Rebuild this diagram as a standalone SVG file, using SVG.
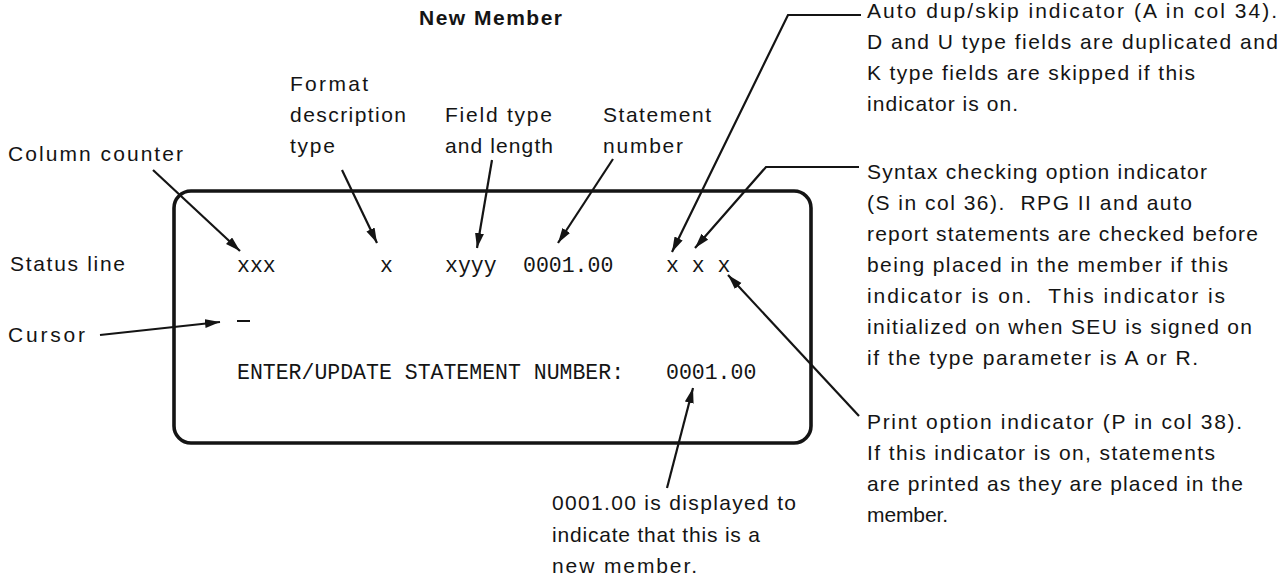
<svg xmlns="http://www.w3.org/2000/svg" width="1282" height="582" viewBox="0 0 1282 582">
  <style>
    .lbl { font-family: "Liberation Sans", Arial, sans-serif; font-size: 21px; fill: #141414; }
    .ttl { font-family: "Liberation Sans", Arial, sans-serif; font-size: 21px; font-weight: bold; fill: #141414; }
    .mono { font-family: "Liberation Mono", "Courier New", monospace; font-size: 21.5px; fill: #141414; }
    .conn { fill: none; stroke: #141414; stroke-width: 2.2; stroke-linejoin: miter; }
    .screen { fill: none; stroke: #141414; stroke-width: 3.6; }
  </style>
  <defs>
    <marker id="arrow" markerUnits="userSpaceOnUse" markerWidth="16" markerHeight="10" refX="15" refY="4.5" orient="auto">
      <path d="M0,0 L15,4.5 L0,9 Z" fill="#141414"/>
    </marker>
  </defs>
  <rect width="1282" height="582" fill="#ffffff"/>

  <g id="title">
    <text class="ttl" x="419" y="25" textLength="143" lengthAdjust="spacing">New Member</text>
  </g>

  <g id="screen">
    <rect class="screen" x="174" y="191" width="637" height="252" rx="17" ry="17"/>
    <g id="status-row">
      <text class="mono" x="237" y="272">xxx</text>
      <text class="mono" x="380" y="272">x</text>
      <text class="mono" x="445" y="272">xyyy</text>
      <text class="mono" x="523" y="272">0001.00</text>
      <text class="mono" x="666" y="272">x x x</text>
    </g>
    <line id="cursor-mark" x1="237" y1="321" x2="250" y2="321" stroke="#141414" stroke-width="2"/>
    <g id="prompt-row">
      <text class="mono" x="237" y="379">ENTER/UPDATE STATEMENT NUMBER:</text>
      <text class="mono" x="666" y="379">0001.00</text>
    </g>
  </g>

  <g id="label-column-counter">
    <text class="lbl" x="8" y="161" textLength="175" lengthAdjust="spacing">Column counter</text>
  </g>
  <g id="label-format">
    <text class="lbl" x="290" y="91" textLength="78" lengthAdjust="spacing">Format</text>
    <text class="lbl" x="290" y="122" textLength="116" lengthAdjust="spacing">description</text>
    <text class="lbl" x="290" y="153" textLength="45" lengthAdjust="spacing">type</text>
  </g>
  <g id="label-field">
    <text class="lbl" x="445" y="122" textLength="107" lengthAdjust="spacing">Field type</text>
    <text class="lbl" x="445" y="153" textLength="108" lengthAdjust="spacing">and length</text>
  </g>
  <g id="label-statement">
    <text class="lbl" x="603" y="122" textLength="108" lengthAdjust="spacing">Statement</text>
    <text class="lbl" x="603" y="153" textLength="80" lengthAdjust="spacing">number</text>
  </g>
  <g id="label-status">
    <text class="lbl" x="10" y="271" textLength="115" lengthAdjust="spacing">Status line</text>
  </g>
  <g id="label-cursor">
    <text class="lbl" x="8" y="342" textLength="77" lengthAdjust="spacing">Cursor</text>
  </g>

  <g id="note-auto-dup">
    <text class="lbl" x="867" y="18" textLength="410" lengthAdjust="spacing">Auto dup/skip indicator (A in col 34).</text>
    <text class="lbl" x="867" y="49" textLength="411" lengthAdjust="spacing">D and U type fields are duplicated and</text>
    <text class="lbl" x="867" y="80" textLength="328" lengthAdjust="spacing">K type fields are skipped if this</text>
    <text class="lbl" x="867" y="111" textLength="151" lengthAdjust="spacing">indicator is on.</text>
  </g>
  <g id="note-syntax">
    <text class="lbl" x="867" y="179" textLength="340" lengthAdjust="spacing">Syntax checking option indicator</text>
    <text class="lbl" x="867" y="210" textLength="325" lengthAdjust="spacing" xml:space="preserve">(S in col 36).  RPG II and auto</text>
    <text class="lbl" x="867" y="241" textLength="391" lengthAdjust="spacing">report statements are checked before</text>
    <text class="lbl" x="867" y="272" textLength="361" lengthAdjust="spacing">being placed in the member if this</text>
    <text class="lbl" x="867" y="303" textLength="358" lengthAdjust="spacing" xml:space="preserve">indicator is on.  This indicator is</text>
    <text class="lbl" x="867" y="334" textLength="385" lengthAdjust="spacing">initialized on when SEU is signed on</text>
    <text class="lbl" x="867" y="365" textLength="331" lengthAdjust="spacing">if the type parameter is A or R.</text>
  </g>
  <g id="note-print">
    <text class="lbl" x="867" y="429" textLength="375" lengthAdjust="spacing">Print option indicator (P in col 38).</text>
    <text class="lbl" x="867" y="460" textLength="348" lengthAdjust="spacing">If this indicator is on, statements</text>
    <text class="lbl" x="867" y="491" textLength="376" lengthAdjust="spacing">are printed as they are placed in the</text>
    <text class="lbl" x="867" y="522" textLength="81" lengthAdjust="spacing">member.</text>
  </g>
  <g id="note-new-member">
    <text class="lbl" x="552" y="510" textLength="244" lengthAdjust="spacing">0001.00 is displayed to</text>
    <text class="lbl" x="552" y="542" textLength="208" lengthAdjust="spacing">indicate that this is a</text>
    <text class="lbl" x="552" y="573" textLength="145" lengthAdjust="spacing">new member.</text>
  </g>

  <g id="connectors">
    <line class="conn" x1="153" y1="170" x2="240" y2="251" marker-end="url(#arrow)"/>
    <line class="conn" x1="342" y1="170" x2="377" y2="243" marker-end="url(#arrow)"/>
    <line class="conn" x1="492" y1="160" x2="477" y2="248" marker-end="url(#arrow)"/>
    <line class="conn" x1="613" y1="159" x2="558" y2="243" marker-end="url(#arrow)"/>
    <polyline class="conn" points="861,15 788,15 672,252" marker-end="url(#arrow)"/>
    <polyline class="conn" points="859,167 766,167 695,248" marker-end="url(#arrow)"/>
    <line class="conn" x1="859" y1="416" x2="728" y2="275" marker-end="url(#arrow)"/>
    <line class="conn" x1="100" y1="335" x2="220" y2="322" marker-end="url(#arrow)"/>
    <line class="conn" x1="667" y1="488" x2="693" y2="388" marker-end="url(#arrow)"/>
  </g>
</svg>
